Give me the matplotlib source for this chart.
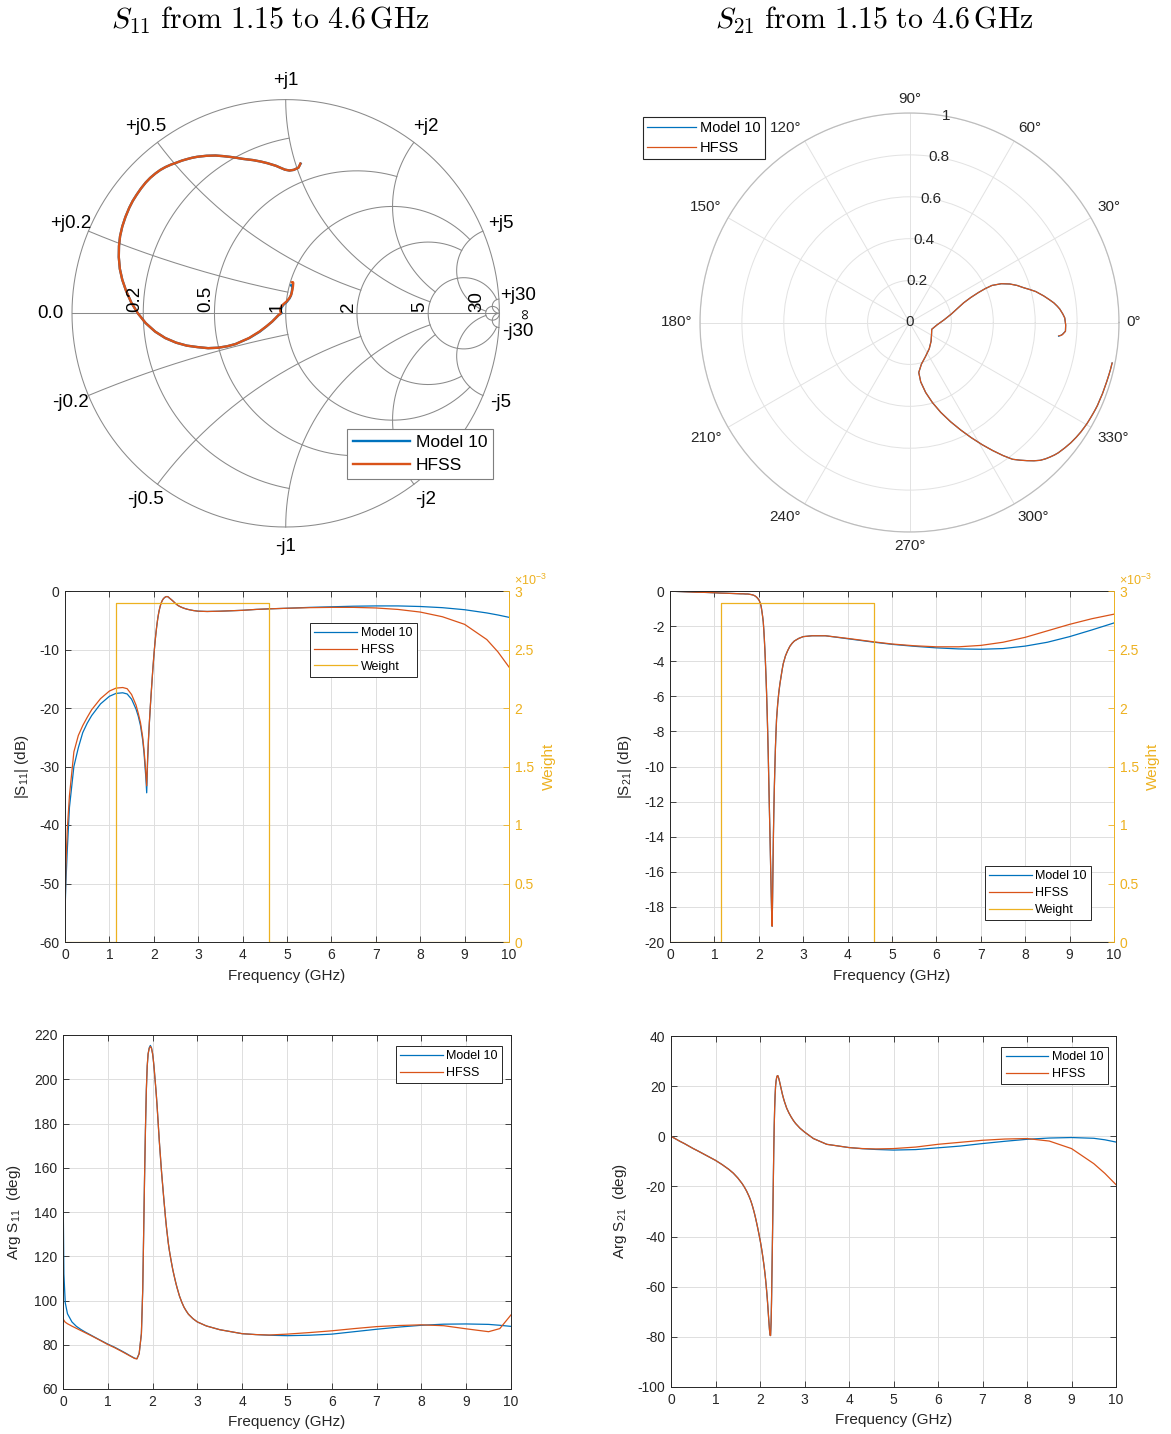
import numpy as np
import matplotlib
matplotlib.use('Agg')
import matplotlib.pyplot as plt
from matplotlib.ticker import FuncFormatter

plt.rcParams['font.family'] = ['Liberation Sans', 'DejaVu Sans']
plt.rcParams['axes.unicode_minus'] = False
plt.rcParams['mathtext.fontset'] = 'custom'
plt.rcParams['mathtext.rm'] = 'Liberation Sans'
plt.rcParams['mathtext.it'] = 'Liberation Sans:italic'

# ---------------- data (frequency in GHz) ----------------
freq = np.array([
    0, 0.02, 0.05, 0.1, 0.2, 0.3, 0.4, 0.5, 0.6, 0.8,
    1.0, 1.15, 1.3, 1.4, 1.5, 1.6, 1.65, 1.7, 1.75, 1.78,
    1.8, 1.82, 1.84, 1.86, 1.88, 1.9, 1.925, 1.95, 1.975, 2.0,
    2.0125, 2.025, 2.0375, 2.05, 2.0625, 2.075, 2.0875, 2.1, 2.1125, 2.125,
    2.1375, 2.15, 2.1625, 2.175, 2.1875, 2.2, 2.2125, 2.225, 2.2375, 2.25,
    2.26, 2.27, 2.28, 2.29, 2.3, 2.31, 2.32, 2.33, 2.34, 2.35,
    2.3625, 2.375, 2.3875, 2.4, 2.425, 2.45, 2.475, 2.5, 2.525, 2.55,
    2.6, 2.65, 2.7, 2.75, 2.8, 2.9, 3.0, 3.2, 3.5, 4.0,
    4.3, 4.6, 5.0, 5.5, 6.0, 6.5, 7.0, 7.5, 8.0, 8.5,
    9.0, 9.5, 9.75, 10.0])

s11_db_hfss = np.array([
    -55.5, -47, -41, -35, -27.5, -24.7, -23, -21.6, -20.3, -18.4,
    -17.1, -16.6, -16.5, -16.7, -17.7, -19.5, -20.9, -22.5, -25.0, -27.2,
    -29.0, -31.0, -33.3, -28.8, -25.3, -22.5, -19.3, -16.5, -13.7, -11.2,
    -10.05, -9.0, -8.0, -7.1, -6.25, -5.5, -4.8, -4.2, -3.65, -3.2,
    -2.8, -2.45, -2.15, -1.9, -1.68, -1.5, -1.36, -1.25, -1.16, -1.08,
    -1.03, -1.0, -0.97, -0.95, -0.95, -0.97, -1.0, -1.05, -1.12, -1.2,
    -1.27, -1.35, -1.42, -1.5, -1.67, -1.85, -2.03, -2.2, -2.36, -2.5,
    -2.7, -2.86, -3.0, -3.11, -3.2, -3.35, -3.45, -3.5, -3.45, -3.3,
    -3.15, -3.05, -2.95, -2.85, -2.8, -2.8, -2.9, -3.15, -3.6, -4.4,
    -5.7, -8.3, -10.4, -13.0])
s11_db_model = np.array([
    -55, -50, -44.5, -37, -30, -26.8, -24.2, -22.6, -21.3, -19.3,
    -18.0, -17.5, -17.4, -17.6, -18.5, -20.2, -21.4, -23.0, -25.5, -27.7,
    -29.8, -31.8, -34.5, -29.2, -25.5, -22.6, -19.4, -16.5, -13.7, -11.2,
    -10.05, -9.0, -8.0, -7.1, -6.25, -5.5, -4.8, -4.2, -3.65, -3.2,
    -2.8, -2.45, -2.15, -1.9, -1.68, -1.5, -1.36, -1.25, -1.16, -1.08,
    -1.03, -1.0, -0.97, -0.95, -0.95, -0.97, -1.0, -1.05, -1.12, -1.2,
    -1.27, -1.35, -1.42, -1.5, -1.67, -1.85, -2.03, -2.2, -2.36, -2.5,
    -2.7, -2.86, -3.0, -3.11, -3.2, -3.35, -3.45, -3.5, -3.45, -3.3,
    -3.15, -3.05, -2.95, -2.8, -2.7, -2.6, -2.55, -2.55, -2.65, -2.85,
    -3.2, -3.75, -4.1, -4.5])

s11_ph_hfss = np.array([
    92, 91, 90.2, 89.5, 88.4, 87.4, 86.4, 85.4, 84.4, 82.3,
    80.1, 78.7, 77.1, 76.0, 74.9, 73.8, 73.6, 76.0, 85.0, 105,
    130, 155, 177, 195, 206, 211.5, 214, 214.8, 214, 211.5,
    209.4, 207, 204.2, 201, 198.1, 195, 191.6, 188, 184, 180,
    176, 172, 168.4, 165, 161.4, 158, 155, 152, 149, 146,
    143.7, 141.5, 139.2, 137, 135, 133, 131.2, 129.5, 127.7, 126,
    124.2, 122.5, 121, 119.5, 116.7, 114, 111.7, 109.5, 107.4, 105.5,
    102, 99.3, 97, 95.3, 93.8, 91.8, 90.3, 88.5, 86.8, 85.0,
    84.6, 84.4, 84.8, 85.5, 86.3, 87.3, 88.2, 88.7, 89.0, 88.6,
    87.2, 85.9, 87.3, 93.5])
s11_ph_model = np.array([
    154, 112, 99, 94, 90.3, 88.3, 86.9, 85.7, 84.6, 82.4,
    80.3, 78.9, 77.3, 76.2, 75.0, 73.9, 73.7, 76.0, 85.0, 105,
    130, 155, 177, 195, 206, 211.5, 214.2, 215.3, 214.2, 211.5,
    209.4, 207, 204.2, 201, 198.1, 195, 191.6, 188, 184, 180,
    176, 172, 168.4, 165, 161.4, 158, 155, 152, 149, 146,
    143.7, 141.5, 139.2, 137, 135, 133, 131.2, 129.5, 127.7, 126,
    124.2, 122.5, 121, 119.5, 116.7, 114, 111.7, 109.5, 107.4, 105.5,
    102, 99.3, 97, 95.3, 93.8, 91.8, 90.3, 88.5, 86.8, 85.0,
    84.6, 84.3, 84.1, 84.3, 84.8, 85.9, 87.0, 88.0, 88.8, 89.3,
    89.4, 89.2, 88.8, 88.3])

s21_db_hfss = np.array([
    -0.01, -0.01, -0.01, -0.02, -0.03, -0.04, -0.05, -0.06, -0.07, -0.08,
    -0.1, -0.12, -0.13, -0.14, -0.15, -0.16, -0.16, -0.17, -0.17, -0.18,
    -0.19, -0.2, -0.21, -0.22, -0.24, -0.26, -0.3, -0.35, -0.42, -0.5,
    -0.56, -0.64, -0.73, -0.85, -1.03, -1.25, -1.48, -1.75, -2.2, -2.75,
    -3.38, -4.1, -4.9, -5.8, -6.85, -8.0, -9.3, -10.8, -12.3, -13.7,
    -14.9, -16.1, -17.3, -18.4, -19.1, -17.6, -15.6, -13.8, -12.4, -11.2,
    -10.0, -8.9, -8.05, -7.3, -6.45, -5.8, -5.3, -4.9, -4.5, -4.15,
    -3.7, -3.4, -3.15, -2.98, -2.85, -2.7, -2.6, -2.55, -2.55, -2.7,
    -2.8, -2.9, -3.02, -3.12, -3.18, -3.18, -3.1, -2.92, -2.64, -2.27,
    -1.9, -1.58, -1.45, -1.32])
s21_db_model = np.array([
    -0.01, -0.01, -0.01, -0.02, -0.03, -0.04, -0.05, -0.06, -0.07, -0.08,
    -0.1, -0.12, -0.13, -0.14, -0.15, -0.16, -0.16, -0.17, -0.17, -0.18,
    -0.19, -0.2, -0.21, -0.22, -0.24, -0.26, -0.3, -0.35, -0.42, -0.5,
    -0.56, -0.64, -0.73, -0.85, -1.03, -1.25, -1.48, -1.75, -2.2, -2.75,
    -3.38, -4.1, -4.9, -5.8, -6.85, -8.0, -9.3, -10.8, -12.3, -13.7,
    -14.9, -16.1, -17.3, -18.4, -19.1, -17.6, -15.6, -13.8, -12.4, -11.2,
    -10.0, -8.9, -8.05, -7.3, -6.45, -5.8, -5.3, -4.9, -4.5, -4.15,
    -3.7, -3.4, -3.15, -2.98, -2.85, -2.7, -2.6, -2.55, -2.55, -2.72,
    -2.82, -2.92, -3.04, -3.15, -3.24, -3.3, -3.32, -3.28, -3.14, -2.92,
    -2.6, -2.22, -2.02, -1.82])

s21_ph_hfss = np.array([
    0, -0.2, -0.5, -1.0, -2.0, -2.9, -3.9, -4.9, -5.8, -7.7,
    -9.6, -11.3, -13.2, -14.7, -16.6, -18.9, -20.3, -21.9, -23.8, -25.1,
    -26.1, -27.2, -28.4, -29.7, -31.1, -32.6, -34.6, -36.7, -38.9, -41.2,
    -42.4, -43.7, -45.05, -46.5, -48, -49.6, -51.2, -53, -54.9, -57,
    -59.3, -61.8, -64.5, -67.5, -70.8, -74, -77, -79.3, -79.5, -74,
    -65, -53, -41, -29, -17, -5, 4.5, 11.5, 16.5, 20,
    22.2, 23.5, 24.1, 24.2, 22.9, 21, 19, 17, 15.3, 13.8,
    11.2, 9.3, 7.7, 6.3, 5.1, 3.2, 1.7, -0.9, -3.2, -4.5,
    -4.9, -5.05, -4.9, -4.3, -3.2, -2.4, -1.6, -1.1, -0.9, -1.9,
    -4.9, -10.9, -14.8, -19.3])
s21_ph_model = np.array([
    0, -0.2, -0.5, -1.0, -2.0, -2.9, -3.9, -4.9, -5.8, -7.7,
    -9.6, -11.3, -13.2, -14.7, -16.6, -18.9, -20.3, -21.9, -23.8, -25.1,
    -26.1, -27.2, -28.4, -29.7, -31.1, -32.6, -34.6, -36.7, -38.9, -41.2,
    -42.4, -43.7, -45.05, -46.5, -48, -49.6, -51.2, -53, -54.9, -57,
    -59.3, -61.8, -64.5, -67.5, -70.8, -74, -77, -79.3, -79.5, -74,
    -65, -53, -41, -29, -17, -5, 4.5, 11.5, 16.5, 20,
    22.2, 23.5, 24.1, 24.2, 22.9, 21, 19, 17, 15.3, 13.8,
    11.2, 9.3, 7.7, 6.3, 5.1, 3.2, 1.7, -0.9, -3.2, -4.5,
    -4.95, -5.25, -5.5, -5.3, -4.6, -3.9, -2.9, -2.0, -1.2, -0.7,
    -0.5, -0.8, -1.4, -2.3])

weight_f = np.array([0, 1.15, 1.15, 4.6, 4.6, 10])
weight = np.array([0, 0, 2.9e-3, 2.9e-3, 0, 0])

band = (1.15, 4.6)
labels = ['Model 10', 'HFSS']

# ---------------- style ----------------
BLUE = '#0072BD'
ORANGE = '#D95319'
YELLOW = '#EDB120'
AXC = '#262626'
GRIDC = '#DEDEDE'
W, H = 1171, 1434

fig = plt.figure(figsize=(W / 100, H / 100), dpi=100)


def box(l, t, r, b):
    return [l / W, (H - b) / H, (r - l) / W, (b - t) / H]


def style_cart(ax, ylim, ystep, right_ticks=True):
    ax.set_xlim(0, 10)
    ax.set_ylim(*ylim)
    ax.set_xticks(range(0, 11))
    ax.set_yticks(np.arange(ylim[0], ylim[1] + 0.001, ystep))
    ax.grid(True, color=GRIDC, lw=0.7)
    ax.set_axisbelow(True)
    ax.tick_params(direction='in', length=4, width=0.6, colors=AXC, labelsize=10,
                   top=True, right=right_ticks, pad=4)
    for s in ax.spines.values():
        s.set_color(AXC)
        s.set_linewidth(0.7)
    ax.set_xlabel('Frequency (GHz)', fontsize=11, color=AXC)


def leg(ax, handles, lbls, x, y):
    lg = ax.legend(handles, lbls, loc='upper left', bbox_to_anchor=(x, y), borderaxespad=0,
                   fontsize=9, handlelength=3.4, handletextpad=0.3, labelspacing=0.38,
                   borderpad=0.35, fancybox=False, framealpha=1, edgecolor=AXC)
    lg.get_frame().set_linewidth(0.7)
    return lg


def weight_axis(ax, label_x):
    ax.spines['right'].set_visible(False)
    ax2 = ax.twinx()
    h, = ax2.plot(weight_f, weight, color=YELLOW, lw=0.9)
    ax2.set_ylim(0, 3e-3)
    ax2.set_yticks(np.arange(0, 3.01e-3, 0.5e-3))
    ax2.yaxis.set_major_formatter(FuncFormatter(lambda v, p: f'{v * 1e3:g}'))
    ax2.tick_params(direction='in', length=4, width=0.6, colors=YELLOW, labelsize=10, pad=4)
    for k, s in ax2.spines.items():
        s.set_visible(k == 'right')
    ax2.spines['right'].set_color(YELLOW)
    ax2.spines['right'].set_linewidth(0.7)
    ax2.set_ylabel('Weight', fontsize=11, color=YELLOW)
    ax2.yaxis.set_label_coords(label_x, 0.5)
    ax2.text(1.012, 1.008, r'$\times10^{-3}$', transform=ax2.transAxes, color=YELLOW,
             fontsize=9, ha='left', va='bottom')
    return ax2, h


# ---------------- |S11| dB ----------------
ax = fig.add_axes(box(65, 591, 509, 942))
style_cart(ax, (-60, 0), 10, right_ticks=False)
h1, = ax.plot(freq, s11_db_model, color=BLUE, lw=0.9)
h2, = ax.plot(freq, s11_db_hfss, color=ORANGE, lw=0.9)
ax.set_ylabel('|S$_{11}$| (dB)', fontsize=11, color=AXC)
ax.yaxis.set_label_coords(-0.077, 0.5)
ax.xaxis.set_label_coords(0.5, -0.077)
ax2, h3 = weight_axis(ax, 1.074)
leg(ax2, [h1, h2, h3], labels + ['Weight'], 0.552, 0.909)

# ---------------- |S21| dB ----------------
ax = fig.add_axes(box(670, 591, 1114, 942))
style_cart(ax, (-20, 0), 2, right_ticks=False)
h1, = ax.plot(freq, s21_db_model, color=BLUE, lw=0.9)
h2, = ax.plot(freq, s21_db_hfss, color=ORANGE, lw=0.9)
ax.set_ylabel('|S$_{21}$| (dB)', fontsize=11, color=AXC)
ax.yaxis.set_label_coords(-0.081, 0.5)
ax.xaxis.set_label_coords(0.5, -0.077)
ax2, h3 = weight_axis(ax, 1.072)
leg(ax2, [h1, h2, h3], labels + ['Weight'], 0.709, 0.2165)

# ---------------- Arg S11 ----------------
ax = fig.add_axes(box(63, 1035, 511, 1389))
style_cart(ax, (60, 220), 20)
h1, = ax.plot(freq, s11_ph_model, color=BLUE, lw=0.9)
h2, = ax.plot(freq, s11_ph_hfss, color=ORANGE, lw=0.9)
ax.set_ylabel('Arg S$_{11}$  (deg)', fontsize=11, color=AXC)
ax.yaxis.set_label_coords(-0.089, 0.5)
ax.xaxis.set_label_coords(0.5, -0.073)
leg(ax, [h1, h2], labels, 0.743, 0.969)

# ---------------- Arg S21 ----------------
ax = fig.add_axes(box(671, 1036, 1116, 1387))
style_cart(ax, (-100, 40), 20)
h1, = ax.plot(freq, s21_ph_model, color=BLUE, lw=0.9)
h2, = ax.plot(freq, s21_ph_hfss, color=ORANGE, lw=0.9)
ax.set_ylabel('Arg S$_{21}$  (deg)', fontsize=11, color=AXC)
ax.yaxis.set_label_coords(-0.094, 0.5)
ax.xaxis.set_label_coords(0.5, -0.073)
leg(ax, [h1, h2], labels, 0.742, 0.969)

# ---------------- Smith chart (S11) ----------------
m = (freq >= band[0]) & (freq <= band[1])
cx, cy, R = 285.7, 313.3, 213.7
span = 1.25
sax = fig.add_axes(box(cx - span * R, cy - span * R, cx + span * R, cy + span * R))
sax.set_xlim(-span, span)
sax.set_ylim(-span, span)
sax.axis('off')

SGRID = '#8A8A8A'
grid_vals = [0.2, 0.5, 1, 2, 5, 30]
grid_lims = [1, 2, 5, 5, 30, np.inf]


def gam(z):
    return (z - 1) / (z + 1)


tt = np.linspace(0, 2 * np.pi, 721)
sax.plot(np.cos(tt), np.sin(tt), color=SGRID, lw=0.75)
sax.plot([-1, 1], [0, 0], color=SGRID, lw=0.75)
for v, lim in zip(grid_vals, grid_lims):
    tmax = np.arctan(lim) if np.isfinite(lim) else 0.49995 * np.pi
    t = np.linspace(-tmax, tmax, 1201)
    g = gam(v + 1j * np.tan(t))
    sax.plot(g.real, g.imag, color=SGRID, lw=0.75)
    t = np.linspace(0, tmax, 1201)
    g = gam(np.tan(t) + 1j * v)
    sax.plot(g.real, g.imag, color=SGRID, lw=0.75)
    sax.plot(g.real, -g.imag, color=SGRID, lw=0.75)
    gr = gam(v).real
    sax.text(gr, 0.005, f'{v:g}', rotation=90, ha='right', va='bottom', fontsize=13.5, color='black')
    ang = np.angle(gam(1j * v))
    sax.text(1.09 * np.cos(ang), 1.09 * np.sin(ang) + (0.012 if v == 30 else 0), f'+j{v:g}',
             ha='center', va='center', fontsize=13.5, color='black')
    sax.text(1.09 * np.cos(ang), -1.09 * np.sin(ang) - (0.012 if v == 30 else 0), f'-j{v:g}',
             ha='center', va='center', fontsize=13.5, color='black')
sax.text(-1.103, 0, '0.0', ha='center', va='center', fontsize=13.5, color='black')
sax.text(1.118, -0.004, '\u221e', rotation=90, ha='center', va='center', fontsize=10.5, color='black')

g_model = 10 ** (s11_db_model[m] / 20) * np.exp(1j * np.radians(s11_ph_model[m]))
g_hfss = 10 ** (s11_db_hfss[m] / 20) * np.exp(1j * np.radians(s11_ph_hfss[m]))
sh1, = sax.plot(g_model.real, g_model.imag, color=BLUE, lw=1.7, solid_joinstyle='round')
sh2, = sax.plot(g_hfss.real, g_hfss.imag, color=ORANGE, lw=1.7, solid_joinstyle='round')
lg = sax.legend([sh1, sh2], labels, loc='upper left', bbox_to_anchor=(347 / W, 1 - 429 / H),
                bbox_transform=fig.transFigure, borderaxespad=0, fontsize=12.5,
                handlelength=3.3, handletextpad=0.3, labelspacing=0.42, borderpad=0.35,
                fancybox=False, framealpha=1, edgecolor='#7F7F7F')
lg.get_frame().set_linewidth(0.8)

# ---------------- Polar (S21) ----------------
pcx, pcy, pR = 909.5, 322.5, 209.5
pax = fig.add_axes(box(pcx - pR, pcy - pR, pcx + pR, pcy + pR), projection='polar')
ph1, = pax.plot(np.radians(s21_ph_model[m]), 10 ** (s21_db_model[m] / 20), color=BLUE, lw=0.9)
ph2, = pax.plot(np.radians(s21_ph_hfss[m]), 10 ** (s21_db_hfss[m] / 20), color=ORANGE, lw=0.9)
pax.set_rlim(0, 1)
rt = [0, 0.2, 0.4, 0.6, 0.8, 1.0]
pax.set_rticks(rt)
pax.set_yticklabels([])
angs = list(range(0, 360, 30))
pax.set_thetagrids(angs, labels=[''] * len(angs))
pax.grid(True, color='#E2E2E2', lw=0.7)
pax.spines['polar'].set_color('#BDBDBD')
pax.spines['polar'].set_linewidth(0.9)
for rv in rt:
    pax.text(np.radians(80), rv, f'{rv:g}', ha='center', va='center', fontsize=11,
             color=AXC, clip_on=False)
for a in angs:
    th = np.radians(a)
    c, s = np.cos(th), np.sin(th)
    ha = 'left' if c > 0.01 else ('right' if c < -0.01 else 'center')
    va = 'bottom' if s > 0.01 else ('top' if s < -0.01 else 'center')
    pax.text(th, 1.035, f'{a}\u00b0', ha=ha, va=va, fontsize=11, color=AXC, clip_on=False)
lg = pax.legend([ph1, ph2], labels, loc='upper left', bbox_to_anchor=(643 / W, 1 - 117 / H),
                bbox_transform=fig.transFigure, borderaxespad=0, fontsize=10.5,
                handlelength=3.3, handletextpad=0.3, labelspacing=0.38, borderpad=0.3,
                fancybox=False, framealpha=1, edgecolor=AXC)
lg.get_frame().set_linewidth(0.8)

# ---------------- titles ----------------
fig.text(270 / W, 1 - 20 / H, r'$S_{11}\ \mathrm{from\ 1.15\ to\ 4.6\,GHz}$',
         ha='center', va='center', fontsize=21.5, math_fontfamily='cm')
fig.text(874 / W, 1 - 20 / H, r'$S_{21}\ \mathrm{from\ 1.15\ to\ 4.6\,GHz}$',
         ha='center', va='center', fontsize=21.5, math_fontfamily='cm')

fig.savefig('out.png', dpi=100)
